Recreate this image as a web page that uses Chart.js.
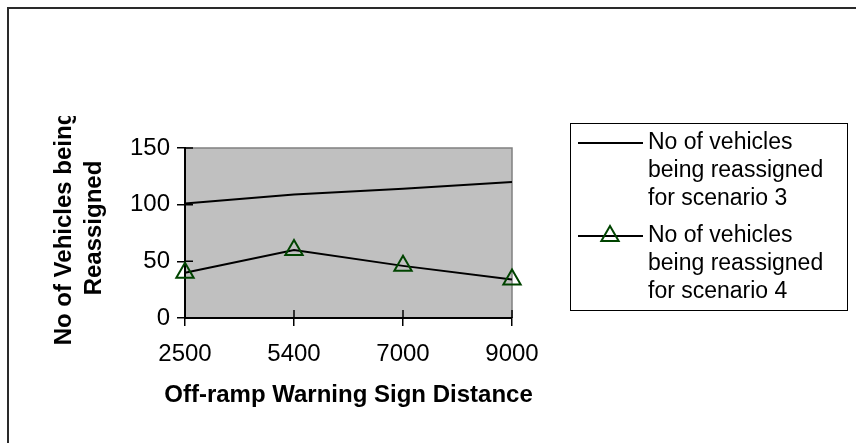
<!DOCTYPE html>
<html>
<head>
<meta charset="utf-8">
<title>Vehicles reassigned</title>
<script src="https://cdn.jsdelivr.net/npm/chart.js@4.4.1/dist/chart.umd.min.js"></script>
<style>
    body { margin: 0; background: #fff; overflow: hidden; }
    #frame {
        position: absolute; left: 7px; top: 7px; width: 900px; height: 500px;
        border-left: 2px solid #2a2a2a; border-top: 2px solid #2a2a2a;
    }
    #chartCanvas { position: absolute; left: 0; top: 0; }
</style>
</head>
<body>
<div id="frame"></div>
<canvas id="chartCanvas" width="856" height="443"></canvas>
<script>
const categories = ['2500', '5400', '7000', '9000'];
const scenario3 = [101, 109, 114, 120];
const scenario4 = [40, 60, 46, 34];
const yTicks = [0, 50, 100, 150];
const seriesLabels = [
    ['No of vehicles', 'being reassigned', 'for scenario 3'],
    ['No of vehicles', 'being reassigned', 'for scenario 4']
];
const xTitle = 'Off-ramp Warning Sign Distance';
const yTitle = ['No of Vehicles being', 'Reassigned'];

const FONT = "'Liberation Sans', Arial, sans-serif";
Chart.defaults.font.family = FONT;
Chart.defaults.color = '#000';

// grey plot area + inner halves of the cross tick marks
const plotArea = {
    id: 'plotArea',
    beforeDraw(chart) {
        const { ctx, chartArea: a } = chart;
        ctx.save();
        ctx.fillStyle = '#c0c0c0';
        ctx.fillRect(a.left, a.top, a.right - a.left, a.bottom - a.top);
        ctx.strokeStyle = '#808080';
        ctx.lineWidth = 1.5;
        ctx.beginPath();
        ctx.moveTo(a.left, a.top);
        ctx.lineTo(a.right, a.top);
        ctx.lineTo(a.right, a.bottom);
        ctx.stroke();
        ctx.restore();
    },
    beforeDatasetsDraw(chart) {
        const { ctx, chartArea: a, scales } = chart;
        ctx.save();
        ctx.strokeStyle = '#000';
        ctx.lineWidth = 1.5;
        ctx.beginPath();
        scales.x.ticks.forEach((t, i) => {
            const x = scales.x.getPixelForTick(i);
            ctx.moveTo(x, a.bottom);
            ctx.lineTo(x, a.bottom - 8);
        });
        scales.y.ticks.forEach((t, i) => {
            const y = scales.y.getPixelForTick(i);
            ctx.moveTo(a.left, y);
            ctx.lineTo(a.left + 8, y);
        });
        ctx.stroke();
        ctx.restore();
    }
};

function drawTriangle(ctx, x, y, r, color, width) {
    ctx.save();
    ctx.strokeStyle = color;
    ctx.lineWidth = width;
    ctx.beginPath();
    ctx.moveTo(x, y - r);
    ctx.lineTo(x + Math.sin(2 * Math.PI / 3) * r, y + r / 2);
    ctx.lineTo(x - Math.sin(2 * Math.PI / 3) * r, y + r / 2);
    ctx.closePath();
    ctx.stroke();
    ctx.restore();
}

// boxed legend with wrapped labels, axis titles (the y one clipped like the original)
const extras = {
    id: 'extras',
    afterDraw(chart) {
        const { ctx, chartArea: a } = chart;
        ctx.save();
        ctx.strokeStyle = '#000';
        ctx.lineWidth = 1;
        ctx.strokeRect(570.5, 123.5, 277, 187);

        ctx.font = '23px ' + FONT;
        ctx.fillStyle = '#000';
        ctx.textBaseline = 'middle';
        chart.data.datasets.forEach((ds, i) => {
            const y0 = 143 + i * 93;
            ctx.strokeStyle = ds.borderColor;
            ctx.lineWidth = ds.borderWidth;
            ctx.beginPath();
            ctx.moveTo(578, y0);
            ctx.lineTo(643, y0);
            ctx.stroke();
            if (ds.pointRadius > 0) {
                drawTriangle(ctx, 610, y0, ds.pointRadius, ds.pointBorderColor, ds.pointBorderWidth);
            }
            ds.label.forEach((line, k) => {
                ctx.fillText(line, 648, y0 + k * 28);
            });
        });

        ctx.font = 'bold 24px ' + FONT;
        ctx.textAlign = 'center';
        ctx.fillText(xTitle, (a.left + a.right) / 2, a.bottom + 77);

        ctx.beginPath();
        ctx.rect(0, 116, chart.width, chart.height - 116);
        ctx.clip();
        ctx.translate(0, (a.top + a.bottom) / 2 - 5);
        ctx.rotate(-Math.PI / 2);
        ctx.fillText(yTitle[0], 0, 64);
        ctx.fillText(yTitle[1], 0, 94);
        ctx.restore();
    }
};

const ctx = document.getElementById('chartCanvas');

new Chart(ctx, {
    type: 'line',
    data: {
        labels: categories,
        datasets: [{
            label: seriesLabels[0],
            data: scenario3,
            borderColor: '#000',
            borderWidth: 2,
            pointRadius: 0,
            tension: 0,
            fill: false,
            clip: false
        }, {
            label: seriesLabels[1],
            data: scenario4,
            borderColor: '#000',
            borderWidth: 2,
            pointStyle: 'triangle',
            pointRadius: 10,
            pointBorderWidth: 2,
            pointBorderColor: '#004400',
            pointBackgroundColor: 'rgba(0,0,0,0)',
            tension: 0,
            fill: false,
            clip: false
        }]
    },
    options: {
        responsive: false,
        devicePixelRatio: 1,
        animation: false,
        layout: { padding: { left: 0, top: 148, right: 344, bottom: 0 } },
        plugins: {
            legend: { display: false },
            tooltip: { enabled: false }
        },
        scales: {
            x: {
                type: 'category',
                offset: false,
                afterFit: s => { s.height = 125; },
                grid: { drawOnChartArea: false, drawTicks: true, tickLength: 8, color: '#000', lineWidth: 1.5 },
                border: { color: '#000', width: 2 },
                ticks: { font: { size: 24 }, color: '#000', padding: 14, maxRotation: 0, autoSkip: false },
                title: { display: false }
            },
            y: {
                min: 0,
                max: 150,
                afterFit: s => { s.width = 185; },
                afterBuildTicks: s => { s.ticks = yTicks.map(v => ({ value: v })); },
                grid: { drawOnChartArea: false, drawTicks: true, tickLength: 8, color: '#000', lineWidth: 1.5 },
                border: { color: '#000', width: 2 },
                ticks: { font: { size: 24 }, color: '#000', padding: 7 },
                title: { display: false }
            }
        }
    },
    plugins: [plotArea, extras]
});
</script>
</body>
</html>
